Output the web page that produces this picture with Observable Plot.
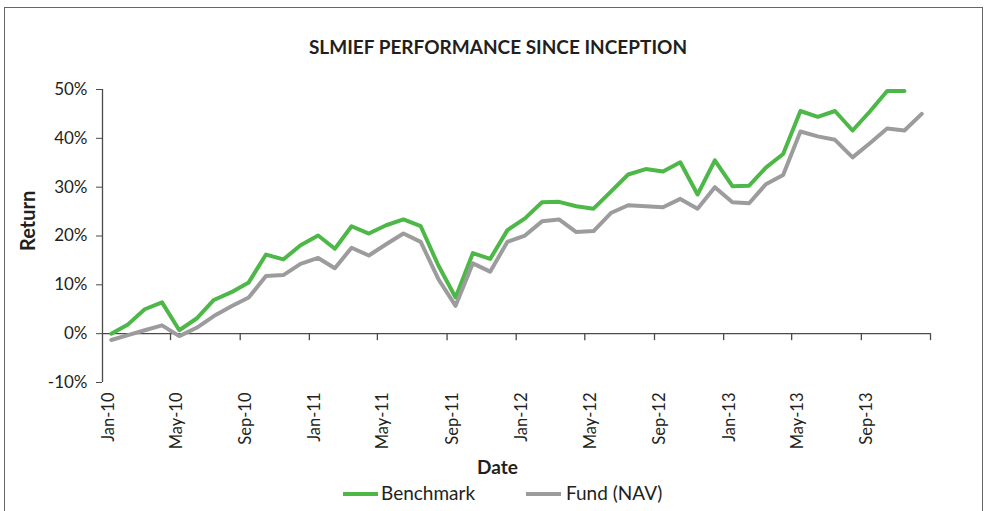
<!DOCTYPE html>
<html><head><meta charset="utf-8">
<script src="https://cdn.jsdelivr.net/npm/d3@7"></script>
<script src="https://cdn.jsdelivr.net/npm/@observablehq/plot@0.6"></script>
<style>
body{margin:0;background:#fff;font-family:Lato,"Open Sans",sans-serif;color:#231f20;}
#wrap{position:relative;width:985px;height:511px;overflow:hidden;}
#box{position:absolute;left:4px;top:7px;width:979px;height:540px;border:1px solid #666;box-sizing:border-box;}
#title{position:absolute;top:35px;left:0;width:996px;text-align:center;font-weight:bold;font-size:19px;line-height:24px;}
#chart{position:absolute;top:70px;left:0;}
.leg{position:absolute;top:482px;font-size:19px;line-height:22px;}
.sw{position:absolute;height:4px;top:492px;}
</style></head><body>
<div id="wrap">
<div id="box"></div>
<div id="title">SLMIEF PERFORMANCE SINCE INCEPTION</div>
<div id="chart"></div>
</div>
<script>
const months = ["2010-01","2010-02","2010-03","2010-04","2010-05","2010-06","2010-07","2010-08","2010-09","2010-10","2010-11","2010-12",
"2011-01","2011-02","2011-03","2011-04","2011-05","2011-06","2011-07","2011-08","2011-09","2011-10","2011-11","2011-12",
"2012-01","2012-02","2012-03","2012-04","2012-05","2012-06","2012-07","2012-08","2012-09","2012-10","2012-11","2012-12",
"2013-01","2013-02","2013-03","2013-04","2013-05","2013-06","2013-07","2013-08","2013-09","2013-10","2013-11","2013-12"];
const benchmark = [0.0,1.9,5.0,6.4,0.7,3.1,6.9,8.5,10.5,16.2,15.2,18.1,
20.1,17.4,22.0,20.5,22.2,23.4,22.0,14.0,7.4,16.5,15.3,21.2,
23.6,26.9,27.0,26.1,25.6,29.1,32.6,33.7,33.2,35.1,28.5,35.5,
30.2,30.3,34.0,36.8,45.6,44.4,45.6,41.6,45.5,49.7,49.7];
const fund = [-1.3,-0.3,0.7,1.7,-0.5,1.2,3.6,5.6,7.4,11.8,12.0,14.3,
15.5,13.4,17.6,16.0,18.3,20.5,18.8,11.2,5.7,14.4,12.7,18.8,
20.1,23.0,23.4,20.8,21.0,24.7,26.3,26.1,25.9,27.6,25.6,30.0,
26.9,26.7,30.6,32.5,41.4,40.4,39.7,36.1,39.0,42.0,41.6,45.0];
const seriesNames = ["Benchmark","Fund (NAV)"];
const seriesColors = ["#4db848","#9c9c9e"];
const labelMonths = ["2010-01","2010-05","2010-09","2011-01","2011-05","2011-09","2012-01","2012-05","2012-09","2013-01","2013-05","2013-09"];
const tickMonths = ["2010-05","2010-09","2011-01","2011-05","2011-09","2012-01","2012-05","2012-09","2013-01","2013-05","2013-09","2014-01"];
const yTicks = [-10,0,10,20,30,40,50];
const xDomainMonths = ["2010-01","2014-01"];

const parse = d3.utcParse("%Y-%m");
const mid = s => { const a = parse(s); const b = d3.utcMonth.offset(a, 1); return new Date((+a + +b) / 2); };
const seriesValues = [benchmark, fund];
const rows = [];
seriesNames.forEach((name, k) => seriesValues[k].forEach((v, i) => rows.push({series: name, date: mid(months[i]), value: v})));
const x0 = parse(xDomainMonths[0]);
const axisColor = "#4a4a4a";

const chart = Plot.plot({
  width: 985, height: 410,
  marginLeft: 102, marginRight: 55, marginTop: 19, marginBottom: 98,
  style: {fontFamily: "Lato, 'Open Sans', sans-serif", fontSize: "16px", color: "#231f20", background: "transparent"},
  x: {type: "utc", domain: xDomainMonths.map(parse)},
  y: {domain: [-10, 50]},
  color: {domain: seriesNames, range: seriesColors},
  marks: [
    Plot.axisY({ticks: yTicks, tickSize: 6, tickPadding: 9, tickFormat: d => d + "%", label: null, stroke: axisColor, fontSize: 17}),
    Plot.ruleX([x0], {stroke: axisColor, strokeWidth: 1.3}),
    Plot.ruleY([0], {stroke: axisColor, strokeWidth: 1.3}),
    Plot.ruleX(tickMonths.map(parse), {y1: 0, y2: 0, insetBottom: -7, stroke: axisColor, strokeWidth: 1.3}),
    Plot.axisX({ticks: labelMonths.map(mid), tickSize: 0, tickPadding: 10, tickRotate: -90, dx: -3, fontSize: 16.5, tickFormat: d3.utcFormat("%b-%y"), label: null}),
    Plot.line(rows, {x: "date", y: "value", z: "series", stroke: "series", strokeWidth: 4, strokeLinejoin: "round", strokeLinecap: "round"}),
    Plot.text(["Return"], {text: d => d, frameAnchor: "left", dx: -74, dy: 15, rotate: -90, fontWeight: "bold", fontSize: 20}),
    Plot.text(["Date"], {text: d => d, frameAnchor: "bottom", dx: -19, dy: 91, fontWeight: "bold", fontSize: 19})
  ]
});
document.getElementById("chart").appendChild(chart);

const wrap = document.getElementById("wrap");
const legPos = [{sw: 343, tx: 381}, {sw: 526, tx: 566}];
seriesNames.forEach((name, k) => {
  const sw = document.createElement("div");
  sw.className = "sw";
  sw.style.left = legPos[k].sw + "px";
  sw.style.width = "35px";
  sw.style.background = seriesColors[k];
  wrap.appendChild(sw);
  const t = document.createElement("div");
  t.className = "leg";
  t.style.left = legPos[k].tx + "px";
  t.textContent = name;
  wrap.appendChild(t);
});
</script>
</body></html>
